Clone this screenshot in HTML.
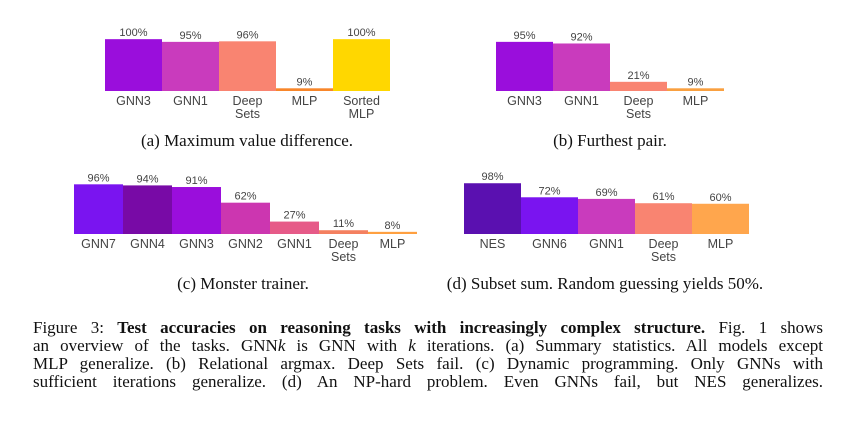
<!DOCTYPE html>
<html><head><meta charset="utf-8"><style>
body{margin:0;background:#fff;width:857px;height:424px;overflow:hidden;position:relative}
svg{position:absolute;left:0;top:0}
.cap{position:absolute;left:33px;width:790px;font:17px "Liberation Serif",serif;color:#111;text-align:justify;text-align-last:justify;white-space:nowrap;line-height:18px}
</style></head><body>
<svg id="chart" width="857" height="424"></svg>
<div class="cap" style="top:319px">Figure 3: <b>Test accuracies on reasoning tasks with increasingly complex structure.</b> Fig. 1 shows</div>
<div class="cap" style="top:337px">an overview of the tasks. GNN<i>k</i> is GNN with <i>k</i> iterations. (a) Summary statistics. All models except</div>
<div class="cap" style="top:355px">MLP generalize. (b) Relational argmax. Deep Sets fail. (c) Dynamic programming. Only GNNs with</div>
<div class="cap" style="top:373px">sufficient iterations generalize. (d) An NP-hard problem. Even GNNs fail, but NES generalizes.</div>
<script>
const catsA=["GNN3","GNN1","Deep|Sets","MLP","Sorted|MLP"];
const valsA=[100,95,96,9,100];
const catsB=["GNN3","GNN1","Deep|Sets","MLP"];
const valsB=[95,92,21,9];
const catsC=["GNN7","GNN4","GNN3","GNN2","GNN1","Deep|Sets","MLP"];
const valsC=[96,94,91,62,27,11,8];
const catsD=["NES","GNN6","GNN1","Deep|Sets","MLP"];
const valsD=[98,72,69,61,60];
const colsA=["#9a0edc","#c93bbd","#f98471","#f8862a","#ffd700"];
const colsB=["#9a0edc","#c93bbd","#f98471","#f9a040"];
const colsC=["#7a14f0","#780aa6","#9a0edc","#cc36b0","#e65a88","#f48060","#ffa040"];
const colsD=["#5a10b0","#7a14f0","#c93bbd","#f98471","#ffa64d"];
const NS="http://www.w3.org/2000/svg";
const svg=document.getElementById('chart');
function mk(t,a){const e=document.createElementNS(NS,t);for(const k in a)e.setAttribute(k,a[k]);return e;}
function y(v,base){return base-(v-4)*0.54;}
function draw(cats,vals,cols,x0,bw,base,caption,capx,id){
  const g=mk('g',{});
  
  
  svg.appendChild(g);
  cats.forEach((c,i)=>{
    const x=x0+i*bw,top=y(vals[i],base);
    const r=mk('rect',{x:x,y:top,width:bw,height:Math.max(2,base-top),fill:cols[i]});
    
    
    g.appendChild(r);
    const t=mk('text',{x:x+bw/2,y:top-3,'text-anchor':'middle','font-size':'11','font-family':'Liberation Sans, sans-serif',fill:'#444'});
    t.textContent=vals[i]+'%';
    
    
    g.appendChild(t);
    c.split('|').forEach((ln,j)=>{
      const l=mk('text',{x:x+bw/2,y:base+14+j*13,'text-anchor':'middle','font-size':'12.5','font-family':'Liberation Sans, sans-serif',fill:'#444'});
      l.textContent=ln;
      
      
      g.appendChild(l);
    });
  });
  const ct=mk('text',{x:capx,y:base+55,'text-anchor':'middle','font-size':'17','font-family':'Liberation Serif, serif',fill:'#111'});
  ct.textContent=caption;
  
  
  g.appendChild(ct);
}
draw(catsA,valsA,colsA,105,57,91,"(a) Maximum value difference.",247,'a');
draw(catsB,valsB,colsB,496,57,91,"(b) Furthest pair.",610,'b');
draw(catsC,valsC,colsC,74,49,234,"(c) Monster trainer.",243,'c');
draw(catsD,valsD,colsD,464,57,234,"(d) Subset sum. Random guessing yields 50%.",605,'d');
</script>
</body></html>
